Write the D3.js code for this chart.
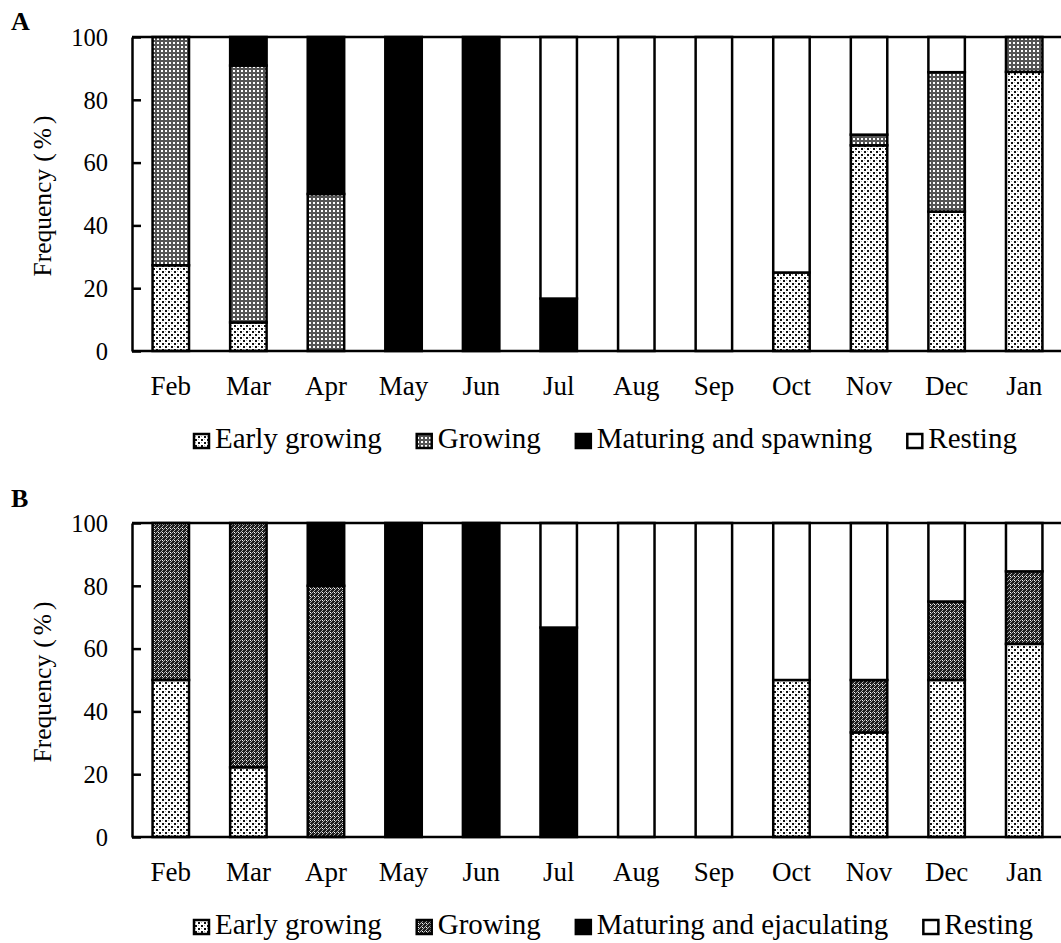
<!DOCTYPE html>
<html>
<head>
<meta charset="utf-8">
<script src="https://cdn.jsdelivr.net/npm/d3@7"></script>
<style>
  html, body { margin: 0; padding: 0; background: #fff; }
  svg { display: block; }
  text { font-family: "Liberation Serif", "Times New Roman", serif; fill: #000; }
</style>
</head>
<body>
<svg id="chart" width="1061" height="943"></svg>
<script>
// Months of the sampling year
const months = ["Feb", "Mar", "Apr", "May", "Jun", "Jul", "Aug", "Sep", "Oct", "Nov", "Dec", "Jan"];
const yTicks = [0, 20, 40, 60, 80, 100];

// Panel A – stage frequencies (%)
const stagesA = ["Early growing", "Growing", "Maturing and spawning", "Resting"];
const earlyA    = [27.3,  9.1,  0,   0,   0,   0,    0,   0,   25, 65.5, 44.4, 88.9];
const growingA  = [72.7, 81.8, 50,   0,   0,   0,    0,   0,    0,  3.4, 44.4, 11.1];
const maturingA = [0,     9.1, 50, 100, 100, 16.7,   0,   0,    0,  0,    0,    0];
const restingA  = [0,     0,    0,   0,   0, 83.3, 100, 100,   75, 31.1, 11.2,  0];

// Panel B – stage frequencies (%)
const stagesB = ["Early growing", "Growing", "Maturing and ejaculating", "Resting"];
const earlyB    = [50, 22.2,  0,   0,   0,   0,    0,   0,   50, 33.3, 50, 61.5];
const growingB  = [50, 77.8, 80,   0,   0,   0,    0,   0,    0, 16.7, 25, 23.1];
const maturingB = [0,   0,   20, 100, 100, 66.7,   0,   0,    0,  0,    0,  0];
const restingB  = [0,   0,    0,   0,   0, 33.3, 100, 100,   50, 50,   25, 15.4];

const SERIF = "Liberation Serif";
const svg = d3.select("#chart");
const defs = svg.append("defs");

// Fill patterns
function pattern(id, size, bg, cells) {
  const p = defs.append("pattern").attr("id", id)
    .attr("patternUnits", "userSpaceOnUse").attr("width", size).attr("height", size);
  p.append("rect").attr("width", size).attr("height", size).attr("fill", bg);
  cells.forEach(c => p.append("rect").attr("x", c[0]).attr("y", c[1])
    .attr("width", c[2]).attr("height", c[3]).attr("fill", c[4]));
}
pattern("pEarly", 6, "#fff", [[0,0,2,2,"#111"],[3,3,2,2,"#111"],[3,0,1,1,"#aaa"],[0,3,1,1,"#aaa"]]);
pattern("pGrowA", 4, "#555", [[1,1,2,2,"#fff"]]);
pattern("pGrowB", 4, "#1c1c1c", [[1,0,1,1,"#b0b0b0"],[0,1,1,1,"#b0b0b0"],[3,2,1,1,"#b0b0b0"],[2,3,1,1,"#b0b0b0"],[2,1,1,1,"#fff"]]);

const fillsA = ["url(#pEarly)", "url(#pGrowA)", "#000", "#fff"];
const fillsB = ["url(#pEarly)", "url(#pGrowB)", "#000", "#fff"];

const plotLeft = 132, plotWidth = 931, plotHeight = 314;

const x = d3.scaleBand().domain(months).range([plotLeft, plotLeft + plotWidth])
  .paddingInner(0.53).paddingOuter(0.265);
const y = d3.scaleLinear().domain([0, 100]).range([plotHeight, 0]);

function drawPanel(opts) {
  const g = svg.append("g").attr("transform", `translate(0,${opts.top})`);
  const rows = months.map((m, i) => {
    const r = { month: m };
    opts.stages.forEach((s, k) => r[s] = opts.series[k][i]);
    return r;
  });
  const stacked = d3.stack().keys(opts.stages)(rows);

  // stacked bars
  stacked.forEach((layer, k) => {
    g.append("g").selectAll("rect")
      .data(layer.filter(d => d[1] - d[0] > 0))
      .join("rect")
      .attr("x", d => x(d.data.month))
      .attr("width", x.bandwidth())
      .attr("y", d => y(d[1]))
      .attr("height", d => y(d[0]) - y(d[1]))
      .attr("fill", opts.fills[k])
      .attr("stroke", "#000")
      .attr("stroke-width", 2.5);
  });

  // plot frame: top border and right edge
  g.append("line").attr("x1", plotLeft).attr("x2", plotLeft + plotWidth)
    .attr("y1", y(100)).attr("y2", y(100)).attr("stroke", "#000").attr("stroke-width", 2.5);
  g.append("line").attr("x1", plotLeft + plotWidth).attr("x2", plotLeft + plotWidth)
    .attr("y1", y(100)).attr("y2", y(0)).attr("stroke", "#000").attr("stroke-width", 2.5);

  // y axis with inward ticks
  const yAxis = d3.axisLeft(y).tickValues(yTicks).tickSizeInner(-9).tickSizeOuter(0).tickPadding(0);
  const ya = g.append("g").attr("transform", `translate(${plotLeft},0)`).call(yAxis);
  ya.attr("font-family", SERIF).attr("font-size", null);
  ya.select(".domain").attr("stroke", "#000").attr("stroke-width", 2.5);
  ya.selectAll(".tick line").attr("stroke", "#000").attr("stroke-width", 2.5);
  ya.selectAll(".tick text").attr("x", -24).attr("dy", "0.34em")
    .attr("font-family", SERIF).style("font-size", "24.5px");

  // x axis line and month labels
  const xa = g.append("g").attr("transform", `translate(0,${plotHeight})`)
    .call(d3.axisBottom(x).tickSize(0).tickPadding(0));
  xa.attr("font-family", SERIF).attr("font-size", null);
  xa.select(".domain").attr("d", `M${plotLeft},0H${plotLeft + plotWidth}`)
    .attr("stroke", "#000").attr("stroke-width", 2.5);
  xa.selectAll(".tick text").attr("y", 44).attr("dy", 0)
    .attr("font-family", SERIF).style("font-size", "27px");

  // y axis title
  const t = g.append("text")
    .attr("transform", `translate(51,${plotHeight / 2}) rotate(-90)`)
    .attr("text-anchor", "middle")
    .attr("font-family", SERIF).style("font-size", "25.5px");
  t.append("tspan").text("Frequency");
  t.append("tspan").attr("dx", 7).style("letter-spacing", "4px").text("(%)");

  // panel letter
  svg.append("text").attr("x", 11).attr("y", opts.letterY)
    .attr("font-family", SERIF).style("font-size", "26px").style("font-weight", "bold")
    .text(opts.letter);

  // legend
  const leg = g.append("g").attr("transform", `translate(0,${plotHeight + 97})`);
  let cx = 194;
  opts.stages.forEach((s, k) => {
    leg.append("rect").attr("x", cx).attr("y", -14).attr("width", 15).attr("height", 14)
      .attr("fill", opts.fills[k]).attr("stroke", "#000").attr("stroke-width", 2.5);
    const tx = leg.append("text").attr("x", cx + 21).attr("y", 0)
      .attr("font-family", SERIF).style("font-size", "29px").text(s);
    cx += 21 + tx.node().getComputedTextLength() + 35;
  });
}

drawPanel({ top: 37, stages: stagesA, series: [earlyA, growingA, maturingA, restingA],
            fills: fillsA, letter: "A", letterY: 30 });
drawPanel({ top: 523, stages: stagesB, series: [earlyB, growingB, maturingB, restingB],
            fills: fillsB, letter: "B", letterY: 507 });
</script>
</body>
</html>
